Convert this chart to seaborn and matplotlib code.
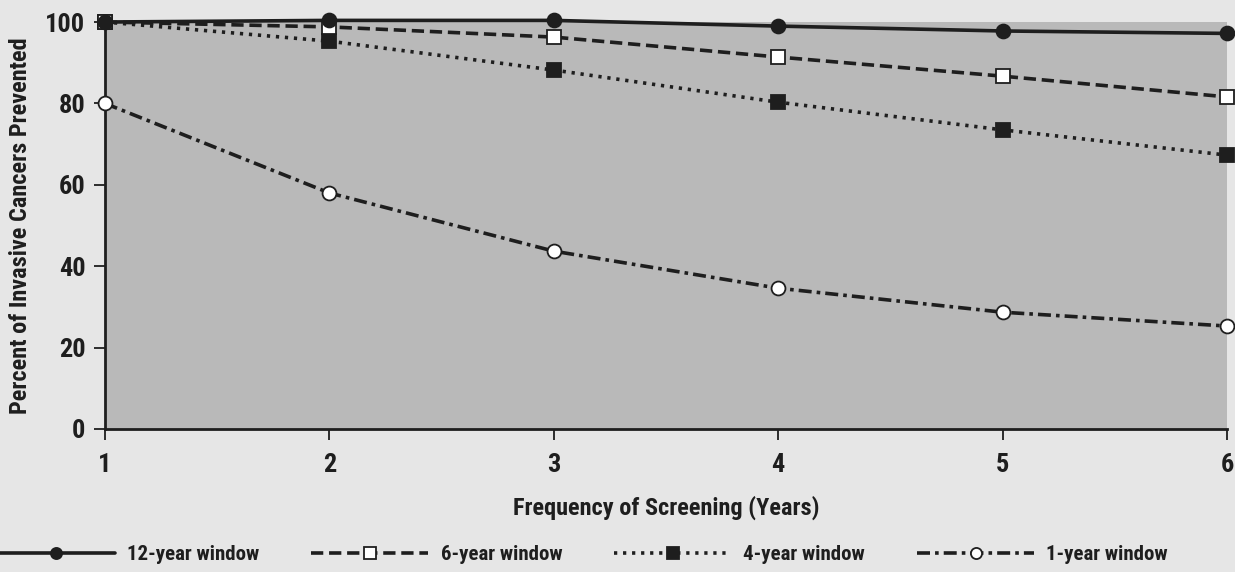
import matplotlib
matplotlib.use("Agg")
import matplotlib.pyplot as plt
import numpy as np
import pandas as pd
import seaborn as sns

# screening frequency (years)
freq = [1, 2, 3, 4, 5, 6]
# percent of invasive cancers prevented
win12 = [100, 100.4, 100.4, 99.0, 97.8, 97.2]
win6 = [100, 98.8, 96.3, 91.4, 86.7, 81.6]
win4 = [100, 95.3, 88.2, 80.3, 73.5, 67.3]
win1 = [80, 58.0, 43.7, 34.6, 28.7, 25.3]
labels = ["12-year window", "6-year window", "4-year window", "1-year window"]

df = pd.DataFrame({"freq": freq * 4,
                   "pct": win12 + win6 + win4 + win1,
                   "window": np.repeat(labels, len(freq))})

sns.set_style("ticks")
plt.rcParams["font.family"] = ["Roboto Condensed", "DejaVu Sans"]
plt.rcParams["font.stretch"] = "condensed"
plt.rcParams["font.weight"] = "bold"

fig = plt.figure(figsize=(12.35, 5.72), dpi=100, facecolor="#e6e6e6")
ax = fig.add_axes([0.085, 0.25, 0.9085, 0.7115])
ax.set_facecolor("#b9b9b9")

styles = {
    "12-year window": dict(ls="-", marker="o", mfc="#1e1e1e", z=6),
    "6-year window": dict(ls=(0, (3.4, 1.6)), marker="s", mfc="white", z=5),
    "4-year window": dict(ls=(0, (0.9, 1.6)), marker="s", mfc="#1e1e1e", z=4),
    "1-year window": dict(ls=(0, (3.6, 1.4, 1.0, 1.4)), marker="o", mfc="white", z=3),
}

for lab in labels:
    st = styles[lab]
    sns.lineplot(data=df[df.window == lab], x="freq", y="pct", ax=ax,
                 color="#1e1e1e", lw=2.6, linestyle=st["ls"], marker=st["marker"],
                 markersize=10, markerfacecolor=st["mfc"], markeredgecolor="#1e1e1e",
                 markeredgewidth=1.3, label=lab, clip_on=False, zorder=st["z"])

ax.set_xlim(1, 6)
ax.set_ylim(0, 100)
ax.set_xticks(freq)
ax.set_yticks([0, 20, 40, 60, 80, 100])
ax.tick_params(axis="both", labelsize=19, length=8, width=1.3, direction="out", pad=6,
               colors="#1e1e1e")
ax.tick_params(axis="x", pad=9)
for s in ["top", "right"]:
    ax.spines[s].set_visible(False)
for s in ["left", "bottom"]:
    ax.spines[s].set_linewidth(2)
    ax.spines[s].set_color("#1e1e1e")

ax.set_xlabel("Frequency of Screening (Years)", fontsize=17.5, fontweight="bold",
              labelpad=14, color="#1e1e1e")
ax.set_ylabel("Percent of Invasive Cancers Prevented", fontsize=17.5, fontweight="bold",
              labelpad=10, color="#1e1e1e")

handles, lbls = ax.get_legend_handles_labels()
ax.get_legend().remove()
fig.legend(handles, lbls, loc="center", bbox_to_anchor=(0.472, 0.03), ncol=4, frameon=False,
           fontsize=15, handlelength=5.6, columnspacing=2.5, handletextpad=0.6,
           markerscale=0.8, labelcolor="#1e1e1e", borderpad=0.2)

fig.savefig("out.png", dpi=100, facecolor=fig.get_facecolor())
